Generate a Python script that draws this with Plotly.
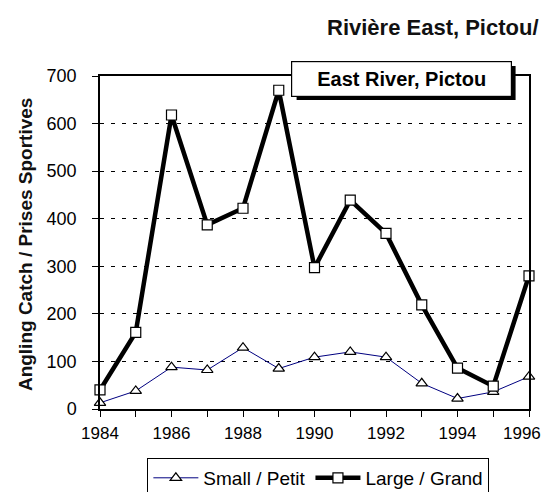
import plotly.graph_objects as go

# East River, Pictou - angling catch
years = [1984, 1985, 1986, 1987, 1988, 1989, 1990, 1991, 1992, 1993, 1994, 1995, 1996]
small = [13, 38, 88, 82, 129, 85, 109, 120, 109, 54, 22, 36, 68]
large = [40, 161, 618, 387, 422, 670, 297, 439, 369, 219, 86, 48, 280]
year_labels = [str(y) if y % 2 == 0 else "" for y in years]
# last label sits at the page edge; pad it so it stays inside the window
year_labels[-1] = year_labels[-1] + "\u00a0\u00a0\u00a0"
y_ticks = [0, 100, 200, 300, 400, 500, 600, 700]

FONT = "Liberation Sans, Arial, sans-serif"

fig = go.Figure()
fig.add_trace(go.Scatter(
    x=years, y=small, name="Small / Petit", mode="lines+markers",
    line=dict(color="#000080", width=1),
    marker=dict(symbol="triangle-up", size=10, color="white",
                line=dict(color="black", width=1.2)),
    cliponaxis=False))
fig.add_trace(go.Scatter(
    x=years, y=large, name="Large / Grand", mode="lines+markers",
    line=dict(color="black", width=4.5),
    marker=dict(symbol="square", size=10, color="white",
                line=dict(color="black", width=1.2)),
    cliponaxis=False))

# box title with drop shadow (shadow is a shape, box is the annotation)
bx, by = 0.703, 0.991
fig.add_shape(type="rect", xref="paper", yref="paper", xsizemode="pixel", ysizemode="pixel",
              xanchor=bx, yanchor=by, x0=-105, x1=114, y0=-21, y1=13,
              fillcolor="black", line=dict(width=0), layer="above")
fig.add_annotation(text="East River, Pictou", xref="paper", yref="paper", x=bx, y=by,
                   xanchor="center", yanchor="middle", showarrow=False,
                   width=213, height=28, borderpad=3, borderwidth=1.2,
                   bgcolor="white", bordercolor="black",
                   font=dict(family=FONT, size=20, color="black", weight="bold"))

fig.add_annotation(text="Rivière East, Pictou/", xref="paper", yref="paper",
                   x=1.028, y=1.147, xanchor="right", yanchor="middle", showarrow=False,
                   font=dict(family=FONT, size=22, color="#111", weight="bold"))
fig.add_annotation(text="Angling Catch / Prises Sportives", xref="paper", yref="paper",
                   x=-0.175, y=0.495, xanchor="center", yanchor="middle", textangle=-90,
                   showarrow=False, font=dict(family=FONT, size=19, color="#111", weight="bold"))

# page body adds an 8px offset; figure is taller than the window so the legend
# bottom gets cut like in the original, plot lands at 100..529 x 76..409
fig.update_layout(
    width=545, height=540,
    margin=dict(l=92, r=24, t=68, b=139),
    paper_bgcolor="white", plot_bgcolor="white",
    font=dict(family=FONT, size=18, color="black"),
    showlegend=True,
    legend=dict(orientation="h", x=0.509, xanchor="center", y=-0.147, yanchor="top",
                bordercolor="black", borderwidth=1, itemwidth=45,
                font=dict(size=19), tracegroupgap=0),
)
fig.update_xaxes(range=[1984, 1996], tickvals=years, ticktext=year_labels,
                 ticks="outside", ticklen=6, tickcolor="black", tickwidth=1.2,
                 showline=True, linecolor="black", linewidth=1.5, mirror=True,
                 showgrid=False, zeroline=False, tickfont=dict(size=17),
                 ticklabelstandoff=2, ticklabeloverflow="allow", automargin=False)
fig.update_yaxes(range=[0, 700], tickvals=y_ticks,
                 ticks="outside", ticklen=6, tickcolor="black", tickwidth=1.2,
                 showline=True, linecolor="black", linewidth=1.5, mirror=True,
                 showgrid=True, gridcolor="black", gridwidth=1, griddash="4px,7px",
                 zeroline=False, tickfont=dict(size=18), ticklabelstandoff=12,
                 automargin=False)

fig.write_html("out.html")
